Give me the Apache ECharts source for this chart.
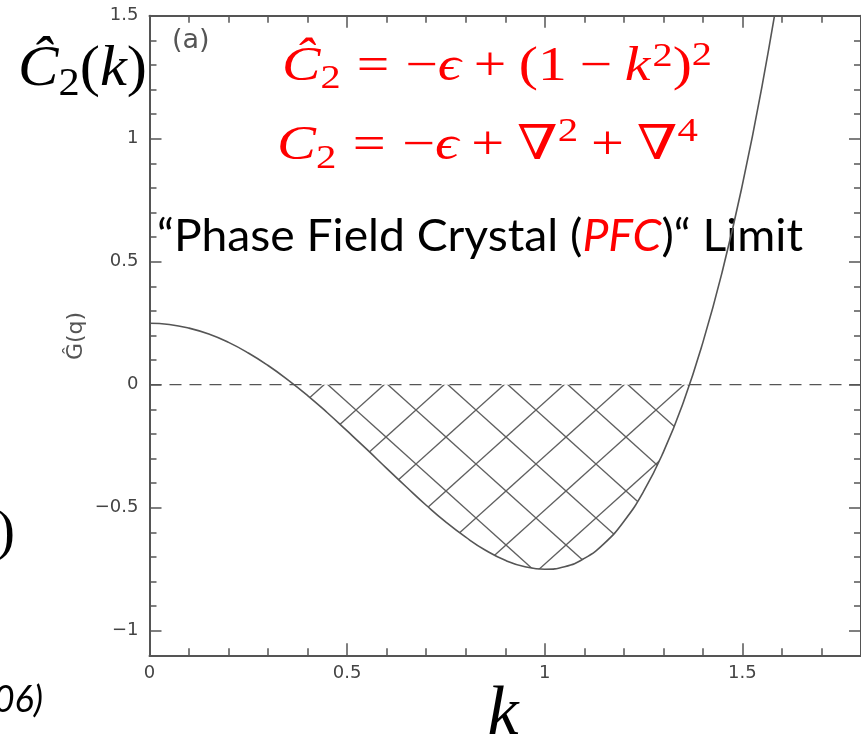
<!DOCTYPE html>
<html><head><meta charset="utf-8">
<script src="https://cdn.jsdelivr.net/npm/echarts@6/dist/echarts.min.js"></script>
<style>html,body{margin:0;padding:0;background:#fff;}#c{width:861px;height:741px;}</style>
</head><body><div id="c"></div>
<script>
// ---------------- data ----------------
const kValues = [0,0.05,0.10,0.15,0.20,0.25,0.30,0.35,0.40,0.45,0.50,0.55,0.60,0.65,0.70,0.75,0.80,
                 0.85,0.90,0.95,1.00,1.05,1.10,1.15,1.20,1.25,1.30,1.35,1.40,1.45,1.50,1.55,1.60];
const gValues = [0.250,0.245,0.230,0.206,0.172,0.129,0.078,0.020,-0.044,-0.114,-0.188,-0.263,-0.340,
                 -0.416,-0.490,-0.559,-0.620,-0.673,-0.714,-0.740,-0.750,-0.740,-0.706,-0.646,-0.556,
                 -0.434,-0.274,-0.074,0.172,0.466,0.813,1.217,1.684];
const zeroCrossings = [0.366, 1.366];
const zeroLevel = 0;
const xRange = [0, 1.8];
const yRange = [-1.1, 1.5];
const xTickValues = [0, 0.5, 1, 1.5];
const yTickValues = [-1, -0.5, 0, 0.5, 1, 1.5];

// ---------------- build series data ----------------
const curveData = kValues.map((k, i) => [k, gValues[i]]);
const hatchData = [[zeroCrossings[0], zeroLevel]]
  .concat(curveData.filter(p => p[0] > zeroCrossings[0] && p[0] < zeroCrossings[1]))
  .concat([[zeroCrossings[1], zeroLevel]]);
const zeroLine = [[xRange[0], zeroLevel], [xRange[1], zeroLevel]];

// ---------------- hatch pattern ----------------
function makeHatch() {
  const w = 60, h = 54, c = document.createElement('canvas');
  c.width = w; c.height = h;
  const g = c.getContext('2d');
  g.strokeStyle = '#606060'; g.lineWidth = 1.4;
  const ox = 26, oy = 5;
  for (let a = -3; a <= 3; a++) {
    const px = ox + 60 * a;
    g.beginPath(); g.moveTo(px - 90, oy - 81); g.lineTo(px + 90, oy + 81); g.stroke();
    g.beginPath(); g.moveTo(px - 90, oy + 81); g.lineTo(px + 90, oy - 81); g.stroke();
  }
  return c;
}

// ---------------- math text layout helper ----------------
const mctx = document.createElement('canvas').getContext('2d');
const SERIF = '"Liberation Serif","DejaVu Serif",serif';
const SANS = 'Lato,"Open Sans",sans-serif';
function textGroup(x0, baseline, tokens, size, color, targetWidth, family) {
  family = family || SERIF;
  let x = 0; const kids = [];
  for (const tk of tokens) {
    if (tk.sp !== undefined) { x += tk.sp * size; continue; }
    const fs = size * (tk.s || 1);
    const fam = tk.fam || family;
    const font = (tk.it ? 'italic ' : '') + fs + 'px ' + fam;
    mctx.font = font;
    const w = mctx.measureText(tk.t).width;
    kids.push({type: 'text', x: x, y: (tk.dy || 0) * size - 0.32 * fs,
      style: {text: tk.t, font: font, fill: tk.c || color,
              align: 'left', verticalAlign: 'middle', textAlign: 'left', textVerticalAlign: 'middle'}});
    x += w;
  }
  const sx = targetWidth ? targetWidth / x : 1;
  return {type: 'group', x: x0, y: baseline, scaleX: sx, children: kids, z: 100};
}

const eq1 = [
  {t: 'Ĉ', it: true}, {t: '2', s: 0.7, dy: 0.15}, {sp: 0.28}, {t: '='}, {sp: 0.28},
  {t: '−'}, {t: 'ϵ', it: true}, {sp: 0.22}, {t: '+'}, {sp: 0.22}, {t: '('}, {t: '1'},
  {sp: 0.22}, {t: '−'}, {sp: 0.22}, {t: 'k', it: true}, {sp: 0.04}, {t: '2', s: 0.7, dy: -0.32},
  {t: ')'}, {t: '2', s: 0.7, dy: -0.34}
];
const eq2 = [
  {t: 'C', it: true}, {t: '2', s: 0.7, dy: 0.17}, {sp: 0.28}, {t: '='}, {sp: 0.28},
  {t: '−'}, {t: 'ϵ', it: true}, {sp: 0.22}, {t: '+'}, {sp: 0.22}, {t: '∇'}, {t: '2', s: 0.7, dy: -0.4},
  {sp: 0.22}, {t: '+'}, {sp: 0.22}, {t: '∇'}, {t: '4', s: 0.7, dy: -0.4}
];
const leftLabel = [
  {t: 'Ĉ', it: true}, {t: '2', s: 0.7, dy: 0.16}, {t: '('}, {t: 'k', it: true}, {t: ')'}
];
const pfc = [
  {t: '“Phase Field Crystal ('}, {t: 'PFC', it: true, c: '#ff0000'}, {t: ')“ Limit'}
];

const fmt = v => String(v).replace('-', '−');
const AX = '#555';
const labelStyle = {color: '#444', fontSize: 18, fontFamily: '"DejaVu Sans",sans-serif'};

function minorAxis(pos, range) {
  return {type: 'value', position: pos, min: range[0], max: range[1], interval: 0.1,
    axisLine: {show: true, onZero: false, lineStyle: {color: AX, width: 2}},
    axisTick: {show: true, inside: true, length: 7, lineStyle: {color: AX, width: 1.5}},
    axisLabel: {show: false}, splitLine: {show: false}};
}
function majorAxis(pos, range, ticks, labels, margin) {
  return {type: 'value', position: pos, min: range[0], max: range[1],
    axisLine: {show: false, onZero: false},
    axisTick: {show: true, inside: true, length: 12, customValues: ticks, lineStyle: {color: AX, width: 1.5}},
    axisLabel: labels ? Object.assign({show: true, customValues: ticks, formatter: fmt, margin: margin}, labelStyle) : {show: false},
    splitLine: {show: false}};
}

const chart = echarts.init(document.getElementById('c'), null, {renderer: 'canvas'});
chart.setOption({
  animation: false,
  backgroundColor: '#fff',
  grid: {left: 149.5, right: -1.3, top: 15.7, bottom: 85.7, containLabel: false},
  xAxis: [
    minorAxis('bottom', xRange), majorAxis('bottom', xRange, xTickValues, true, 9),
    minorAxis('top', xRange), majorAxis('top', xRange, xTickValues, false)
  ],
  yAxis: [
    minorAxis('left', yRange), majorAxis('left', yRange, yTickValues, true, 11),
    minorAxis('right', yRange), majorAxis('right', yRange, yTickValues, false)
  ],
  series: [
    {type: 'line', name: 'hatch', data: hatchData, smooth: true, symbol: 'none', silent: true, z: 1,
     lineStyle: {width: 0, opacity: 0},
     areaStyle: {color: {image: makeHatch(), repeat: 'repeat'}, opacity: 1}},
    {type: 'line', name: 'zero', data: zeroLine, symbol: 'none', silent: true, z: 2,
     lineStyle: {color: '#555', width: 1.3, type: [12, 8]}},
    {type: 'line', name: 'G(q)', data: curveData, smooth: true, symbol: 'none', silent: true, z: 3,
     lineStyle: {color: '#555', width: 1.6}}
  ],
  graphic: [
    textGroup(18, 88, leftLabel, 56, '#000', 129),
    textGroup(282, 83, eq1, 48, '#ff0000', 430),
    textGroup(277, 162, eq2, 48, '#ff0000', 421),
    textGroup(157, 251, pfc, 45, '#000', 646, SANS),
    {type: 'text', x: 172, y: 41, z: 100, style: {text: '(a)', font: '27px "DejaVu Sans",sans-serif', fill: '#555',
      align: 'left', verticalAlign: 'middle', textAlign: 'left', textVerticalAlign: 'middle'}},
    {type: 'text', x: 76, y: 336, rotation: Math.PI / 2, z: 100, style: {text: 'Ĝ(q)', font: '22px "DejaVu Sans",sans-serif', fill: '#555',
      align: 'center', verticalAlign: 'middle', textAlign: 'center', textVerticalAlign: 'middle'}},
    {type: 'text', x: 503, y: 716, z: 100, style: {text: 'k', font: 'italic 70px ' + SERIF, fill: '#000',
      align: 'center', verticalAlign: 'middle', textAlign: 'center', textVerticalAlign: 'middle'}},
    {type: 'text', x: 15, y: 534, z: 100, style: {text: ')', font: '58px ' + SERIF, fill: '#000',
      align: 'right', verticalAlign: 'middle', textAlign: 'right', textVerticalAlign: 'middle'}},
    {type: 'text', x: 43, y: 700, z: 100, style: {text: '06)', font: 'italic 36px ' + SANS, fill: '#000',
      align: 'right', verticalAlign: 'middle', textAlign: 'right', textVerticalAlign: 'middle'}}
  ]
});
</script>
</body></html>
